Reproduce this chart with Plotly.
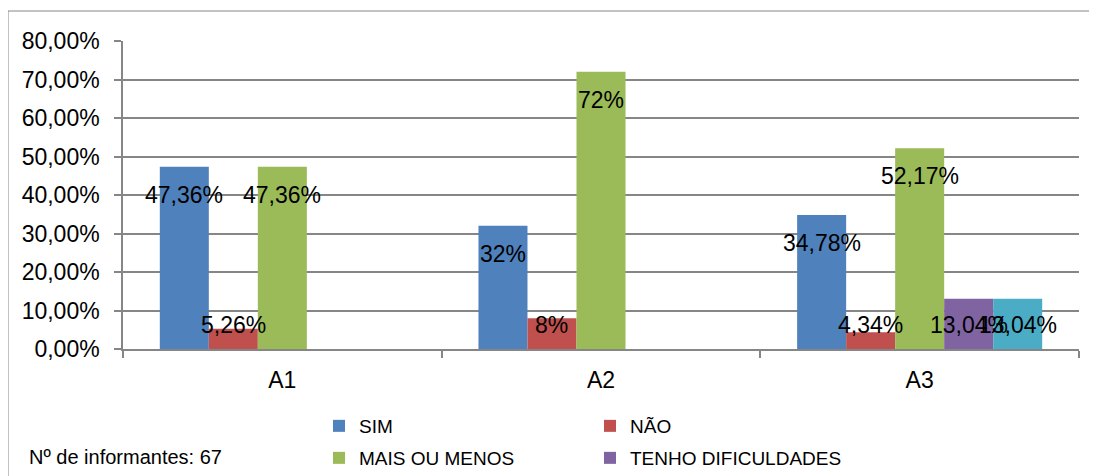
import plotly.graph_objects as go

categories = ["A1", "A2", "A3"]
series_names = ["SIM", "NÃO", "MAIS OU MENOS", "TENHO DIFICULDADES", "OUTROS"]
sim = [47.36, 32.0, 34.78]
nao = [5.26, 8.0, 4.34]
mais = [47.36, 72.0, 52.17]
tenho = [None, None, 13.04]
outros = [None, None, 13.04]
sim_labels = ["47,36%", "32%", "34,78%"]
nao_labels = ["5,26%", "8%", "4,34%"]
mais_labels = ["47,36%", "72%", "52,17%"]
tenho_labels = [None, None, "13,04%"]
outros_labels = [None, None, "13,04%"]

colors = ["#4F81BD", "#C0504D", "#9BBB59", "#8064A2", "#4BACC6"]
values = [sim, nao, mais, tenho, outros]
labels = [sim_labels, nao_labels, mais_labels, tenho_labels, outros_labels]
legend_rows = ["legend", "legend", "legend2", "legend2", None]

# page has an 8px body margin, so the figure is sized to fill the rest
W, H = 1089, 468
L, R, T, B = 115, 18, 33, 127
pw, ph = W - L - R, H - T - B
ymax = 80
px_per_unit = ph / ymax
bargap = 0.231
n = len(values)
bw = (1 - bargap) / n

fig = go.Figure()
annotations = []
for i, (name, vals, labs, col, lg) in enumerate(zip(series_names, values, labels, colors, legend_rows)):
    fig.add_trace(go.Bar(
        x=categories, y=vals, name=name, marker=dict(color=col, line=dict(width=0)),
        showlegend=lg is not None, legend=lg or "legend",
    ))
    for ci, (v, lab) in enumerate(zip(vals, labs)):
        if v is None or lab is None:
            continue
        xc = ci - (1 - bargap) / 2 + (i + 0.5) * bw
        yc = max(v - 28 / px_per_unit, 24 / px_per_unit)
        annotations.append(dict(
            x=xc, y=yc, xref="x", yref="y", text=lab, showarrow=False,
            xanchor="center", yanchor="middle",
            font=dict(family="Liberation Sans, Arial", size=23, color="#000000"),
        ))

annotations.append(dict(
    x=(19 - L) / pw, y=(H - B - 449) / ph, xref="paper", yref="paper",
    text="Nº de informantes: 67", showarrow=False, xanchor="left", yanchor="middle",
    font=dict(family="Liberation Sans, Arial", size=20, color="#000000"),
))

grid = "#868686"
legend_common = dict(
    orientation="h", x=(311 - L) / pw, xanchor="left", yanchor="top",
    entrywidth=226, entrywidthmode="pixels",
    font=dict(family="Liberation Sans Narrow, Arial Narrow, Liberation Sans", size=19, color="#000000"),
    bgcolor="rgba(0,0,0,0)", itemclick=False, itemdoubleclick=False, tracegroupgap=0,
)
fig.update_layout(
    width=W, height=H,
    margin=dict(l=L, r=R, t=T, b=B, autoexpand=False),
    paper_bgcolor="white", plot_bgcolor="white",
    barmode="group", bargap=bargap, bargroupgap=0,
    separators=",.",
    font=dict(family="Liberation Sans, Arial", color="#000000"),
    annotations=annotations,
    legend=dict(y=(H - B - 399) / ph, **legend_common),
    legend2=dict(y=(H - B - 431) / ph, **legend_common),
    shapes=[dict(
        type="rect", xref="paper", yref="paper",
        x0=(0 - L) / pw, x1=1.1, y0=-0.6, y1=(H - B - 3) / ph,
        line=dict(color=grid, width=1), fillcolor="rgba(0,0,0,0)", layer="below",
    )],
)
fig.update_xaxes(
    type="category", showline=True, linecolor=grid, linewidth=1.5,
    ticks="outside", tickson="boundaries", ticklen=7, tickcolor=grid, tickwidth=1.5,
    showgrid=False, tickfont=dict(size=23, color="#000000"), ticklabelstandoff=10,
)
fig.update_yaxes(
    range=[0, ymax], dtick=10, tickformat=".2f", ticksuffix="%",
    showline=True, linecolor=grid, linewidth=1.5,
    ticks="outside", ticklen=7, tickcolor=grid, tickwidth=1.5,
    showgrid=True, gridcolor=grid, gridwidth=1.5, zeroline=False,
    tickfont=dict(size=23, color="#000000"), ticklabelstandoff=10,
)

fig.write_html("out.html")
